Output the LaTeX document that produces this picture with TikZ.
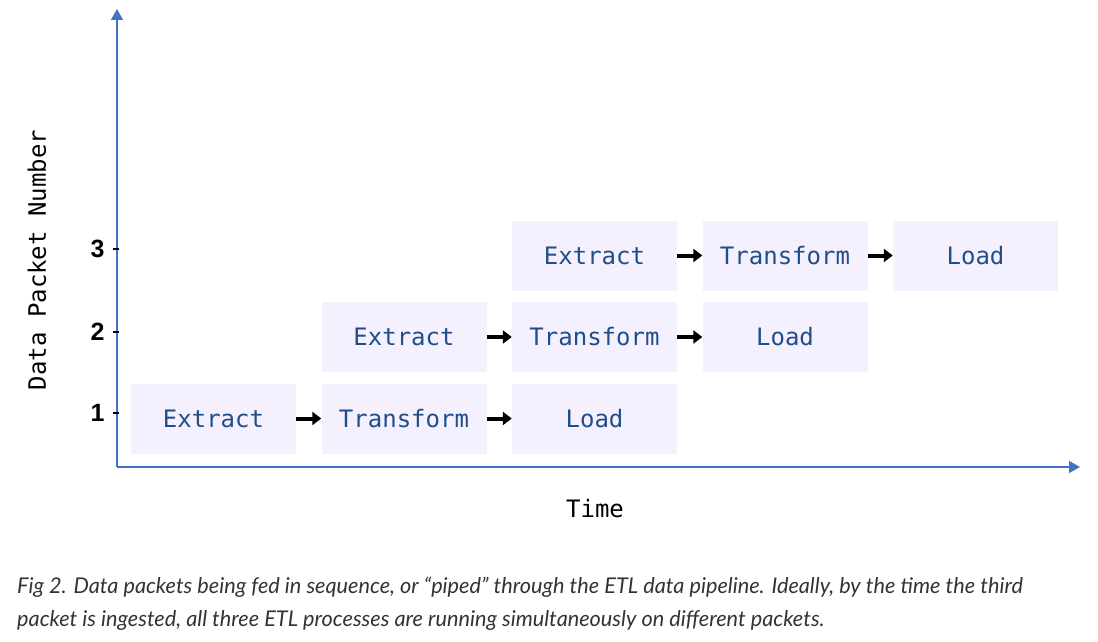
\documentclass[tikz,border=0pt]{standalone}
\usepackage{fontspec}
\usetikzlibrary{arrows.meta}
\newfontfamily\stagefont{DejaVu Sans Mono}
\newfontfamily\tickfont{Liberation Sans}
\newfontfamily\capfont{Lato}
\definecolor{axisblue}{HTML}{4472C4}
\definecolor{stagefill}{HTML}{F4F0FD}
\definecolor{stagetext}{HTML}{1F4E8A}
\definecolor{captext}{HTML}{333333}

\begin{document}
\begin{tikzpicture}[x=1pt, y=-1pt,
	stage/.style={fill=stagefill, minimum width=165pt, minimum height=70pt, inner sep=0pt, text=stagetext, font=\stagefont\fontsize{24}{28}\selectfont},
	flow/.style={-{Triangle[length=9pt,width=13pt]}, line width=4pt, black},
	axis/.style={axisblue, line width=1.3pt, -{Triangle[length=11pt,width=12pt]}},
	ticklabel/.style={anchor=east, font=\tickfont\bfseries\fontsize{25}{28}\selectfont}]
	\useasboundingbox (0,0) rectangle (1098,642);
	% axes
	\coordinate (origin) at (117,467);
	\coordinate (ytop) at (117,9);
	\coordinate (xend) at (1080,467);
	\draw[axis] (origin) -- (ytop);
	\draw[axis] (origin) -- (xend);
	\node[rotate=90, font=\stagefont\fontsize{24}{28}\selectfont] (ylabel) at (37,260) {Data Packet Number};
	\node[font=\stagefont\fontsize{24}{28}\selectfont] (xlabel) at (595,509) {Time};
	% packet ticks
	\draw[line width=2pt] (113,413) -- (119,413);
	\draw[line width=2pt] (113,332) -- (119,332);
	\draw[line width=2pt] (113,249) -- (119,249);
	\node[ticklabel] (n1) at (108,413) {1};
	\node[ticklabel] (n2) at (108,332) {2};
	\node[ticklabel] (n3) at (108,249) {3};
	% packet 1
	\node[stage] (e1) at (213.5,418.5) {Extract};
	\node[stage] (t1) at (404,418.5) {Transform};
	\node[stage] (l1) at (594.5,418.5) {Load};
	% packet 2
	\node[stage] (e2) at (404,337) {Extract};
	\node[stage] (t2) at (594.5,337) {Transform};
	\node[stage] (l2) at (785,337) {Load};
	% packet 3
	\node[stage] (e3) at (594.5,255.5) {Extract};
	\node[stage] (t3) at (785,255.5) {Transform};
	\node[stage] (l3) at (975.5,255.5) {Load};
	\draw[flow] (e1) -- (t1);
	\draw[flow] (t1) -- (l1);
	\draw[flow] (e2) -- (t2);
	\draw[flow] (t2) -- (l2);
	\draw[flow] (e3) -- (t3);
	\draw[flow] (t3) -- (l3);
	% caption
	\node[anchor=north west, align=left, inner sep=0pt, text=captext, font=\capfont\itshape\fontsize{21.7}{33}\selectfont] (caption) at (17,577)
		{Fig 2. Data packets being fed in sequence, or “piped” through the ETL data pipeline. Ideally, by the time the third\\
		packet is ingested, all three ETL processes are running simultaneously on different packets.};
\end{tikzpicture}
\end{document}
